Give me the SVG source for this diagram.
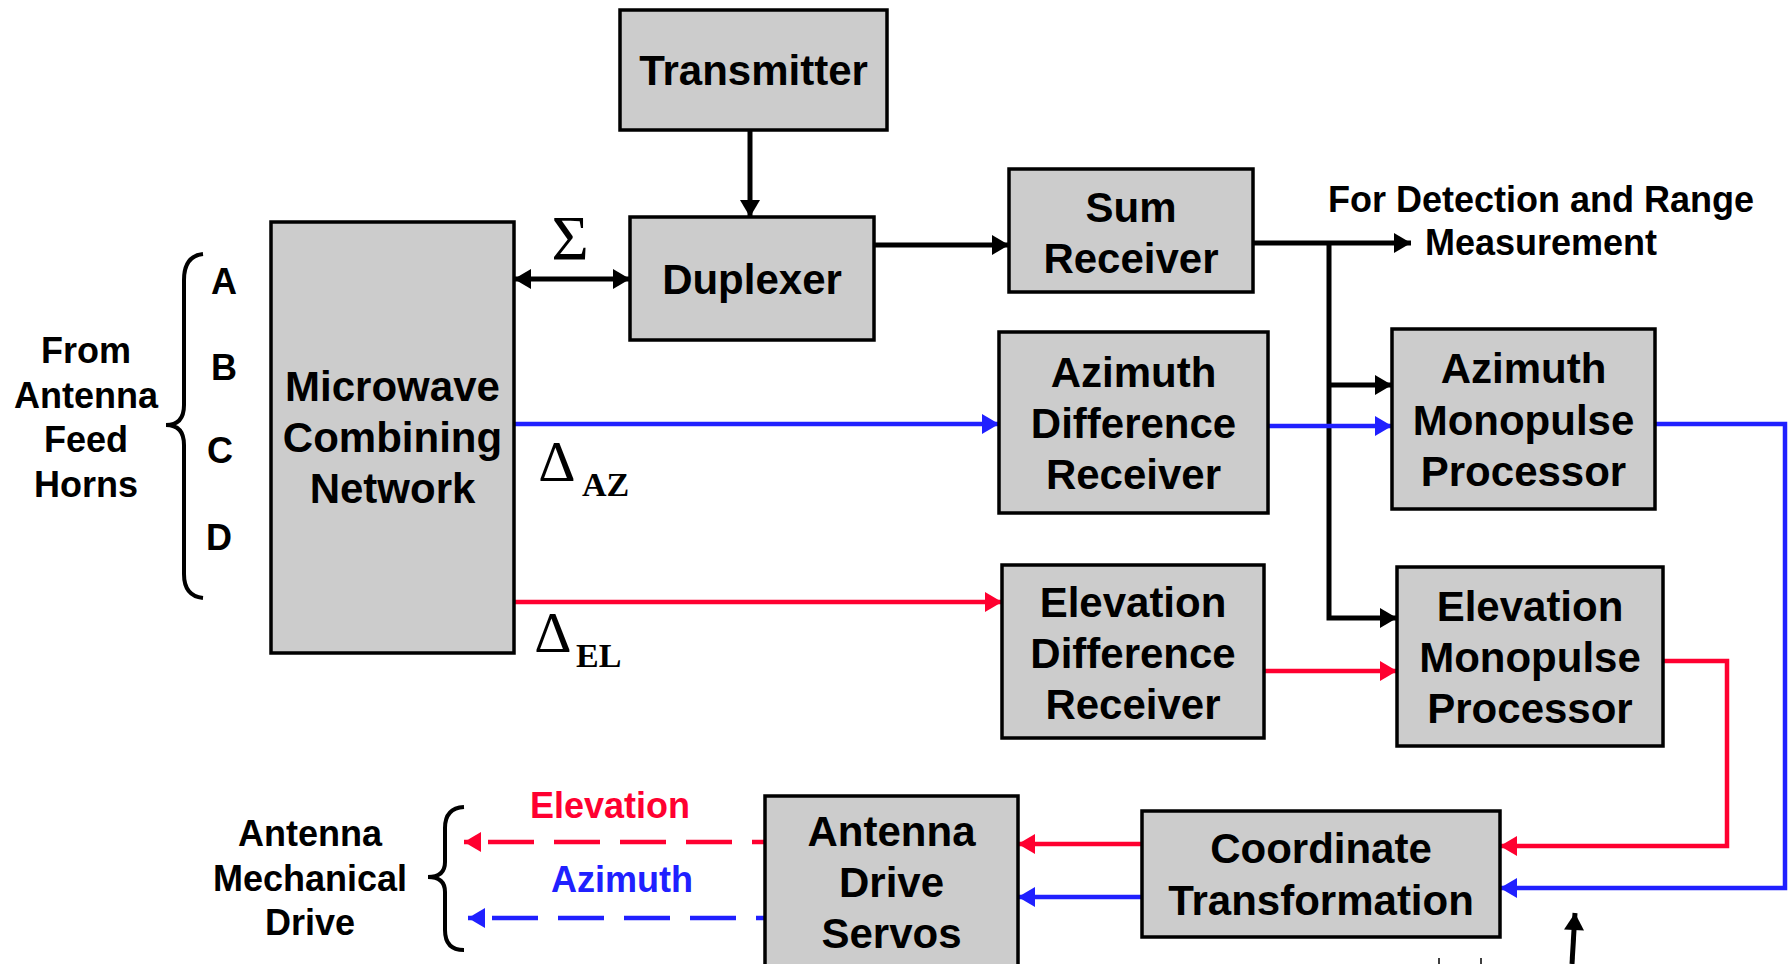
<svg xmlns="http://www.w3.org/2000/svg" width="1790" height="964" viewBox="0 0 1790 964">
<defs>
<marker id="ak" markerUnits="userSpaceOnUse" markerWidth="20" markerHeight="22" viewBox="0 -11 18 22" refX="17" refY="0" orient="auto-start-reverse"><path d="M0,-10 L17,0 L0,10 z" fill="#000"/></marker>
<marker id="ab" markerUnits="userSpaceOnUse" markerWidth="20" markerHeight="22" viewBox="0 -11 18 22" refX="17" refY="0" orient="auto-start-reverse"><path d="M0,-10 L17,0 L0,10 z" fill="#2020ff"/></marker>
<marker id="ar" markerUnits="userSpaceOnUse" markerWidth="20" markerHeight="22" viewBox="0 -11 18 22" refX="17" refY="0" orient="auto-start-reverse"><path d="M0,-10 L17,0 L0,10 z" fill="#ff0030"/></marker>
</defs>
<style>
.box{fill:#cccccc;stroke:#000;stroke-width:3.5}
.t{font-family:"Liberation Sans",Arial,sans-serif;font-weight:bold;font-size:42px;text-anchor:middle;fill:#000}
.l{font-family:"Liberation Sans",Arial,sans-serif;font-weight:bold;font-size:36px;text-anchor:middle;fill:#000}
.g{font-family:"Liberation Serif","Times New Roman",serif;fill:#000}
.k{fill:none;stroke:#000;stroke-width:5}
.b{fill:none;stroke:#2020ff;stroke-width:4.5}
.r{fill:none;stroke:#ff0030;stroke-width:4.5}
.d{stroke-dasharray:46 20;stroke-dashoffset:42}
.br{fill:none;stroke:#000;stroke-width:4}
.red{fill:#ff0030}
.blue{fill:#2020ff}
</style>
<rect width="1790" height="964" fill="#fff"/>

<g id="connectors">
<path class="k" d="M750,130 V217" marker-end="url(#ak)"/>
<path class="k" d="M514,279 H630" marker-start="url(#ak)" marker-end="url(#ak)"/>
<path class="k" d="M874,245 H1009" marker-end="url(#ak)"/>
<path class="k" d="M1253,243 H1411" marker-end="url(#ak)"/>
<path class="k" d="M1329,243 V618 H1397" marker-end="url(#ak)"/>
<path class="k" d="M1329,385 H1392" marker-end="url(#ak)"/>
<path class="b" d="M514,424 H999" marker-end="url(#ab)"/>
<path class="b" d="M1268,426 H1392" marker-end="url(#ab)"/>
<path class="b" d="M1655,424 H1785 V888 H1500" marker-end="url(#ab)"/>
<path class="r" d="M514,602 H1002" marker-end="url(#ar)"/>
<path class="r" d="M1264,671 H1397" marker-end="url(#ar)"/>
<path class="r" d="M1663,661 H1727 V846 H1500" marker-end="url(#ar)"/>
<path class="r" d="M1142,844 H1018" marker-end="url(#ar)"/>
<path class="b" d="M1142,897 H1018" marker-end="url(#ab)"/>
<path class="r d" d="M464,842 H765" marker-start="url(#ar)"/>
<path class="b d" d="M468,918 H767" marker-start="url(#ab)"/>
<path class="k" d="M1572,964 L1575,913" marker-end="url(#ak)"/>
<path d="M1439,958 V964 M1481,958 V964" stroke="#000" stroke-width="1.5"/>
</g>

<g id="transmitter">
<rect class="box" x="620" y="10" width="267" height="120"/>
<text class="t" x="753.5" y="85">Transmitter</text>
</g>
<g id="duplexer">
<rect class="box" x="630" y="217" width="244" height="123"/>
<text class="t" x="752" y="294">Duplexer</text>
</g>
<g id="mcn">
<rect class="box" x="271" y="222" width="243" height="431"/>
<text class="t" x="392.5" y="401">Microwave</text>
<text class="t" x="392.5" y="452">Combining</text>
<text class="t" x="392.5" y="503">Network</text>
</g>
<g id="sum-receiver">
<rect class="box" x="1009" y="169" width="244" height="123"/>
<text class="t" x="1131" y="222">Sum</text>
<text class="t" x="1131" y="273">Receiver</text>
</g>
<g id="az-diff">
<rect class="box" x="999" y="332" width="269" height="181"/>
<text class="t" x="1133.5" y="387">Azimuth</text>
<text class="t" x="1133.5" y="438">Difference</text>
<text class="t" x="1133.5" y="489">Receiver</text>
</g>
<g id="az-mono">
<rect class="box" x="1392" y="329" width="263" height="180"/>
<text class="t" x="1523.5" y="383">Azimuth</text>
<text class="t" x="1523.5" y="435">Monopulse</text>
<text class="t" x="1523.5" y="486">Processor</text>
</g>
<g id="el-diff">
<rect class="box" x="1002" y="565" width="262" height="173"/>
<text class="t" x="1133" y="617">Elevation</text>
<text class="t" x="1133" y="668">Difference</text>
<text class="t" x="1133" y="719">Receiver</text>
</g>
<g id="el-mono">
<rect class="box" x="1397" y="567" width="266" height="179"/>
<text class="t" x="1530" y="621">Elevation</text>
<text class="t" x="1530" y="672">Monopulse</text>
<text class="t" x="1530" y="723">Processor</text>
</g>
<g id="coord">
<rect class="box" x="1142" y="811" width="358" height="126"/>
<text class="t" x="1321" y="863">Coordinate</text>
<text class="t" x="1321" y="915">Transformation</text>
</g>
<g id="servos">
<rect class="box" x="765" y="796" width="253" height="180"/>
<text class="t" x="891.5" y="846">Antenna</text>
<text class="t" x="891.5" y="897">Drive</text>
<text class="t" x="891.5" y="948">Servos</text>
</g>

<g id="labels">
<text class="g" x="570" y="260" font-size="64" text-anchor="middle">Σ</text>
<text class="g" x="557" y="481" font-size="58" text-anchor="middle">Δ</text>
<text class="g" x="582" y="496" font-size="34" font-weight="bold">AZ</text>
<text class="g" x="553" y="652" font-size="58" text-anchor="middle">Δ</text>
<text class="g" x="576" y="667" font-size="34" font-weight="bold">EL</text>
<text class="l" x="224" y="294">A</text>
<text class="l" x="224" y="380">B</text>
<text class="l" x="220" y="463">C</text>
<text class="l" x="219" y="550">D</text>
<text class="l" x="86" y="363">From</text>
<text class="l" x="86" y="408">Antenna</text>
<text class="l" x="86" y="452">Feed</text>
<text class="l" x="86" y="497">Horns</text>
<text class="l" x="1541" y="212" font-size="37">For Detection and Range</text>
<text class="l" x="1541" y="255" font-size="37">Measurement</text>
<text class="l red" x="610" y="818">Elevation</text>
<text class="l blue" x="622" y="892">Azimuth</text>
<text class="l" x="310" y="846">Antenna</text>
<text class="l" x="310" y="891">Mechanical</text>
<text class="l" x="310" y="935">Drive</text>
<path class="br" d="M203,254 Q184,256 184,280 V405 Q184,425 166,425 Q184,425 184,445 V574 Q184,596 203,598"/>
<path class="br" d="M464,807 Q445,808 445,828 V862 Q445,877 428,877 Q445,877 445,892 V930 Q445,950 464,950"/>
</g>
</svg>
